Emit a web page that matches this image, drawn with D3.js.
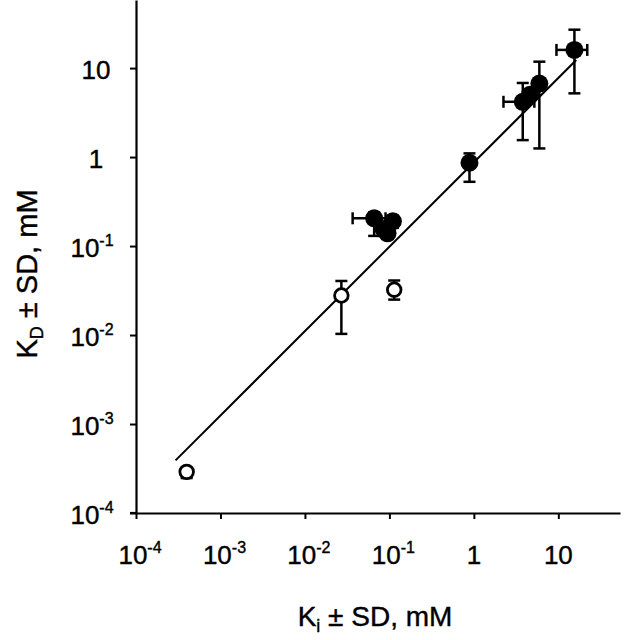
<!DOCTYPE html>
<html><head><meta charset="utf-8">
<script src="https://cdn.jsdelivr.net/npm/d3@7"></script>
<style>html,body{margin:0;padding:0;background:#fff}svg{display:block}</style>
</head><body>
<svg id="c" width="624" height="640"></svg>
<script>
// Tick values and labels
const tickVals = [1e-4, 1e-3, 1e-2, 1e-1, 1, 10];
const tickBase = ["10", "10", "10", "10", "1", "10"];
const tickExp  = ["-4", "-3", "-2", "-1", "", ""];

// Filled circles (Ki, KD) with SD
const filledX   = [15.5, 5.96, 4.6, 3.79, 0.887, 0.066, 0.11, 0.095, 0.085];
const filledY   = [16, 6.7, 5.0, 4.18, 0.863, 0.205, 0.19, 0.139, 0.155];
const filledYLo = [5.2, 1.25, 4.3, 1.55, 0.527, 0.13, 0.16, 0.12, 0.13];
const filledYHi = [27, 11.8, 5.8, 6.8, 1.10, 0.24, 0.22, 0.16, 0.18];
const filledXLo = [9.5, null, null, 2.24, null, 0.0367, null, 0.085, null];
const filledXHi = [22, null, null, 5.2, null, 0.09, null, 0.108, null];

// Open circles
const openX   = [0.027, 0.114, 3.98e-4];
const openY   = [0.0278, 0.0323, 2.9e-4];
const openYLo = [0.0103, 0.025, 2.47e-4];
const openYHi = [0.0405, 0.041, 3.2e-4];

// Regression line endpoints
const lineX = [2.94e-4, 16.3];
const lineY = [3.9e-4, 12.3];

const svg = d3.select("#c");
const x = d3.scaleLog().domain([1e-4, Math.pow(10, 1.73)]).range([136, 620]);
const y = d3.scaleLog().domain([1e-4, Math.pow(10, 1.765)]).range([513, 0]);
const font = "Liberation Sans, Arial, Helvetica, sans-serif";

// Axes
const xAxis = svg.append("g").attr("transform", "translate(0,513)")
  .call(d3.axisBottom(x).tickValues(tickVals).tickFormat("").tickSize(6).tickSizeOuter(0));
const yAxis = svg.append("g").attr("transform", "translate(136,0)")
  .call(d3.axisLeft(y).tickValues(tickVals).tickFormat("").tickSize(6).tickSizeOuter(0));
[xAxis, yAxis].forEach(a => {
  a.select(".domain").attr("stroke", "#000").attr("stroke-width", 2.2);
  a.selectAll(".tick line").attr("stroke", "#000").attr("stroke-width", 2);
});
svg.append("line").attr("x1", 130).attr("x2", 136).attr("y1", 513).attr("y2", 513)
  .attr("stroke", "#000").attr("stroke-width", 2.2);

function label(g, xp, yp, i) {
  const t = g.append("text").attr("x", xp).attr("y", yp)
    .attr("text-anchor", "middle").attr("font-family", font).attr("font-size", 26)
    .attr("fill", "#000").attr("stroke", "#000").attr("stroke-width", 0.4);
  t.append("tspan").text(tickBase[i]);
  if (tickExp[i]) t.append("tspan").attr("font-size", 16).attr("dy", -11).text(tickExp[i]);
}
const labG = svg.append("g");
tickVals.forEach((v, i) => {
  label(labG, x(v) + (tickExp[i] ? 4 : 0), 564, i);
  label(labG, tickExp[i] ? 92 : 96, y(v) + 11, i);
});

// Axis titles
const xt = svg.append("text").attr("x", 375).attr("y", 626).attr("text-anchor", "middle")
  .attr("font-family", font).attr("font-size", 28).attr("fill", "#000").attr("stroke", "#000").attr("stroke-width", 0.4);
xt.append("tspan").text("K");
xt.append("tspan").attr("font-size", 18).attr("dy", 6).text("i");
xt.append("tspan").attr("dy", -6).text(" ± SD, mM");

const yt = svg.append("text").attr("transform", "translate(37,274) rotate(-90)").attr("text-anchor", "middle")
  .attr("font-family", font).attr("font-size", 29).attr("fill", "#000").attr("stroke", "#000").attr("stroke-width", 0.4);
yt.append("tspan").text("K");
yt.append("tspan").attr("font-size", 18).attr("dy", 6).text("D");
yt.append("tspan").attr("dy", -6).text(" ± SD, mM");

// Regression line
svg.append("path").datum(lineX.map((d, i) => [d, lineY[i]]))
  .attr("d", d3.line().x(d => x(d[0])).y(d => y(d[1])))
  .attr("stroke", "#000").attr("stroke-width", 2).attr("fill", "none");

// Error bars
const eb = svg.append("g").attr("stroke", "#000").attr("stroke-width", 2.5).attr("fill", "none");
const cap = 6;
function vbar(xv, lo, hi) {
  eb.append("line").attr("x1", x(xv)).attr("x2", x(xv)).attr("y1", y(lo)).attr("y2", y(hi));
  [lo, hi].forEach(v => eb.append("line").attr("x1", x(xv) - cap).attr("x2", x(xv) + cap).attr("y1", y(v)).attr("y2", y(v)));
}
function hbar(yv, lo, hi) {
  eb.append("line").attr("y1", y(yv)).attr("y2", y(yv)).attr("x1", x(lo)).attr("x2", x(hi));
  [lo, hi].forEach(v => eb.append("line").attr("y1", y(yv) - cap).attr("y2", y(yv) + cap).attr("x1", x(v)).attr("x2", x(v)));
}
filledX.forEach((d, i) => {
  vbar(d, filledYLo[i], filledYHi[i]);
  if (filledXLo[i] !== null) hbar(filledY[i], filledXLo[i], filledXHi[i]);
});
openX.forEach((d, i) => vbar(d, openYLo[i], openYHi[i]));

// Points
svg.append("g").selectAll("circle").data(filledX).join("circle")
  .attr("cx", d => x(d)).attr("cy", (d, i) => y(filledY[i])).attr("r", 9).attr("fill", "#000");
svg.append("g").selectAll("circle").data(openX).join("circle")
  .attr("cx", d => x(d)).attr("cy", (d, i) => y(openY[i])).attr("r", 6.8)
  .attr("fill", "#fff").attr("stroke", "#000").attr("stroke-width", 2.8);
</script>
</body></html>
